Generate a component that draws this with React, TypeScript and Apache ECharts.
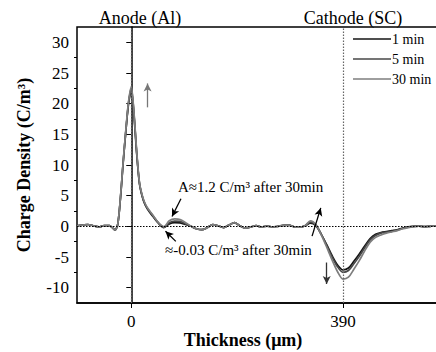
import React, { useEffect, useRef } from 'react';
import * as echarts from 'echarts';

const thickness = [
  -100, -90, -80, -70, -60, -50, -40, -35, -30, -25, -20, -15, -10, -5, 0, 5, 10, 15, 20, 25, 30,
  40, 50, 60, 70, 80, 90, 100, 110, 120, 130, 140, 150, 160, 170, 180, 190, 200, 210, 220, 230,
  240, 250, 260, 270, 280, 290, 300, 310, 320, 330, 340, 350, 360, 370, 380, 390, 400, 410, 420,
  430, 440, 450, 460, 470, 480, 490, 500, 510, 520, 530, 540, 550, 560, 570, 580, 590, 600,
];

const density1min = [
  0.1, 0.2, 0.3, 0.1, -0.1, 0.1, 0.1, -0.2, -0.6, 0.3, 4.5, 10.3, 15.5, 20.0, 22.2, 18.0, 11.8, 7.0, 4.9, 3.6, 2.8,
  1.6, 0.5, -0.2, 0.4, 0.6, 0.55, 0.3, 0.0, -0.4, -0.55, -0.2, 0.3, 0.1, -0.2, 0.2, 0.6, 0.1, -0.3, -0.1, 0.1,
  -0.1, 0.05, -0.1, 0.0, 0.15, 0.2, -0.1, -0.15, 0.1, 0.5, 0.1, -1.3, -3.0, -4.8, -6.3, -7.1, -6.8, -5.7, -4.5,
  -3.2, -2.0, -1.3, -1.0, -0.85, -0.7, -0.55, -0.3, -0.1, 0.0, 0.05, -0.05, 0.0, 0.05, 0.0, 0.0, 0.0, 0.0,
];

const density5min = [
  0.1, 0.2, 0.3, 0.1, -0.1, 0.1, 0.1, -0.2, -0.6, 0.3, 4.6, 10.4, 15.6, 20.2, 22.5, 18.3, 12.0, 7.1, 5.0, 3.7, 2.9,
  1.7, 0.55, -0.15, 0.6, 0.85, 0.8, 0.4, 0.0, -0.4, -0.55, -0.2, 0.3, 0.1, -0.2, 0.2, 0.6, 0.1, -0.3, -0.1, 0.1,
  -0.1, 0.05, -0.1, 0.0, 0.15, 0.2, -0.1, -0.15, 0.1, 0.7, 0.2, -1.3, -3.1, -5.0, -6.6, -7.5, -7.2, -6.1, -4.9,
  -3.5, -2.2, -1.5, -1.1, -0.95, -0.8, -0.6, -0.35, -0.15, 0.0, 0.05, -0.05, 0.0, 0.05, 0.0, 0.0, 0.0, 0.0,
];

const density30min = [
  0.1, 0.2, 0.3, 0.1, -0.1, 0.1, 0.1, -0.2, -0.6, 0.3, 4.7, 10.5, 15.8, 20.4, 22.8, 18.5, 12.2, 7.2, 5.1, 3.8, 3.0,
  1.8, 0.6, -0.05, 0.9, 1.2, 1.1, 0.6, 0.05, -0.4, -0.55, -0.2, 0.3, 0.1, -0.2, 0.2, 0.6, 0.1, -0.3, -0.1, 0.1,
  -0.1, 0.05, -0.1, 0.0, 0.15, 0.2, -0.1, -0.15, 0.1, 0.9, 0.3, -1.4, -3.4, -5.5, -7.4, -8.6, -8.3, -7.0, -5.6,
  -4.0, -2.6, -1.8, -1.4, -1.1, -0.9, -0.7, -0.4, -0.2, -0.05, 0.05, -0.05, 0.0, 0.05, 0.0, 0.0, 0.0, 0.0,
];

const seriesNames = ['1 min', '5 min', '30 min'];
const seriesColors = ['#151515', '#474747', '#7e7e7e'];
const yTickValues = [-10, -5, 0, 5, 10, 15, 20, 25, 30];
const yMinorTickValues = [-7.5, -2.5, 2.5, 7.5, 12.5, 17.5, 22.5, 27.5];
const xTickValues = [0, 390];
const electrodePositions = [0, 390];
// annotation arrows: [from, to] in data coordinates
const arrowCoords = [
  [[30, 19.4], [30, 23.3]],
  [[360, -5.9], [360, -9.4]],
  [[333, -1.6], [349, 3.0]],
  [[91.5, 4.5], [75, 1.6]],
  [[82, -2.45], [63, -0.8]],
];

const FONT = 'Liberation Serif';

export default function App() {
  const ref = useRef<HTMLDivElement>(null);

  useEffect(() => {
    if (!ref.current) return;
    const chart = echarts.init(ref.current, undefined, { renderer: 'svg' });
    const allData = [density1min, density5min, density30min];

    const series: any[] = allData.map((vals, i) => ({
      name: seriesNames[i],
      type: 'line',
      data: thickness.map((x, j) => [x, vals[j]]),
      smooth: 0.3,
      symbol: 'none',
      showSymbol: false,
      lineStyle: { color: seriesColors[i], width: 1.7 },
      itemStyle: { color: seriesColors[i] },
      z: 2 + i,
    }));

    series[0].markLine = {
      silent: true,
      symbol: ['none', 'none'],
      label: { show: false },
      data: [
        ...electrodePositions.map((x) => ({
          xAxis: x,
          lineStyle: { color: '#666', type: [1.5, 1.5], width: 1.2 },
        })),
        { yAxis: 0, lineStyle: { color: '#000', type: [1.5, 1.5], width: 1 } },
      ],
    };

    series[2].markLine = {
      silent: true,
      label: { show: false },
      symbol: ['none', 'arrow'],
      symbolSize: [6, 8],
      lineStyle: { color: '#000', type: 'solid', width: 1.2 },
      data: arrowCoords.map(([a, b], k) => [
        { coord: a, lineStyle: { color: k === 0 ? '#777' : k === 1 ? '#333' : '#000', type: 'solid', width: 1.3 } },
        { coord: b },
      ]),
    };

    chart.setOption({
      animation: false,
      grid: {
        left: 77,
        top: 27,
        width: 380,
        height: 276,
        show: true,
        borderColor: '#000',
        borderWidth: 1.5,
        backgroundColor: 'transparent',
      },
      legend: {
        data: seriesNames.map((n) => ({ name: n, icon: 'rect' })),
        orient: 'vertical',
        left: 353,
        top: 31,
        padding: 0,
        itemWidth: 38,
        itemHeight: 1.6,
        itemGap: 4,
        textStyle: { fontFamily: FONT, fontSize: 14, color: '#000', lineHeight: 16, padding: [0, 0, 0, -4] },
      },
      xAxis: {
        type: 'value',
        min: -100,
        max: 600,
        axisLine: { show: true, onZero: false, lineStyle: { color: '#000', width: 1.5 } },
        axisTick: { show: true, customValues: xTickValues, length: 5, lineStyle: { color: '#000' } },
        axisLabel: {
          customValues: xTickValues,
          fontFamily: FONT,
          fontSize: 17,
          color: '#000',
          margin: 10,
        },
        splitLine: { show: false },
      },
      yAxis: [
        {
          type: 'value',
          min: -12.5,
          max: 32.5,
          name: 'Charge Density (C/m³)',
          nameLocation: 'middle',
          nameGap: 44,
          nameTextStyle: { fontFamily: FONT, fontSize: 18, fontWeight: 'bold', color: '#000' },
          axisLine: { show: true, lineStyle: { color: '#000', width: 1.5 } },
          axisTick: { show: true, customValues: yTickValues, length: 5, lineStyle: { color: '#000' } },
          axisLabel: {
            customValues: yTickValues,
            fontFamily: FONT,
            fontSize: 17,
            color: '#000',
            margin: 8,
          },
          splitLine: { show: false },
        },
        {
          type: 'value',
          min: -12.5,
          max: 32.5,
          position: 'left',
          axisLine: { show: false },
          axisTick: { show: true, customValues: yMinorTickValues, length: 3, lineStyle: { color: '#000' } },
          axisLabel: { show: false },
          splitLine: { show: false },
        },
      ],
      graphic: [
        {
          type: 'text',
          x: 140,
          y: 18,
          style: { text: 'Anode (Al)', fontFamily: FONT, fontSize: 18, fill: '#000', align: 'center', verticalAlign: 'middle' },
        },
        {
          type: 'text',
          x: 353,
          y: 18,
          style: { text: 'Cathode (SC)', fontFamily: FONT, fontSize: 18, fill: '#000', align: 'center', verticalAlign: 'middle' },
        },
        {
          type: 'text',
          x: 243,
          y: 340,
          style: { text: 'Thickness (μm)', fontFamily: FONT, fontSize: 18, fontWeight: 'bold', fill: '#000', align: 'center', verticalAlign: 'middle' },
        },
        {
          type: 'text',
          x: 178,
          y: 187,
          style: { text: 'A≈1.2 C/m³ after 30min', fontFamily: FONT, fontSize: 15, fill: '#000', align: 'left', verticalAlign: 'middle' },
        },
        {
          type: 'text',
          x: 165,
          y: 250,
          style: { text: '≈-0.03 C/m³ after 30min', fontFamily: FONT, fontSize: 15, fill: '#000', align: 'left', verticalAlign: 'middle' },
        },
      ],
      series,
    });

    return () => chart.dispose();
  }, []);

  return (
    <div style={{ position: 'fixed', left: 0, top: 0, width: 436, height: 352, overflow: 'hidden', background: '#fff' }}>
      <div ref={ref} style={{ width: 480, height: 352 }} />
    </div>
  );
}
